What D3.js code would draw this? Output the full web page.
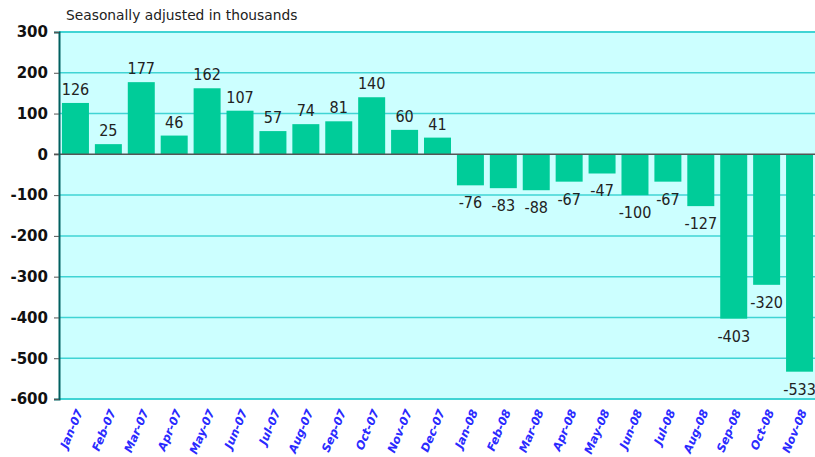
<!DOCTYPE html>
<html>
<head>
<meta charset="utf-8">
<script src="https://cdn.jsdelivr.net/npm/d3@7"></script>
<style>
  body { margin: 0; background: #fff; }
  svg { display: block; }
</style>
</head>
<body>
<div id="chart-area"></div>
<script>
// Data
var months = ['Jan-07', 'Feb-07', 'Mar-07', 'Apr-07', 'May-07', 'Jun-07', 'Jul-07', 'Aug-07', 'Sep-07', 'Oct-07', 'Nov-07', 'Dec-07',
  'Jan-08', 'Feb-08', 'Mar-08', 'Apr-08', 'May-08', 'Jun-08', 'Jul-08', 'Aug-08', 'Sep-08', 'Oct-08', 'Nov-08'];
var jobs = [126, 25, 177, 46, 162, 107, 57, 74, 81, 140, 60, 41,
  -76, -83, -88, -67, -47, -100, -67, -127, -403, -320, -533];
var yTicks = [300, 200, 100, 0, -100, -200, -300, -400, -500, -600];

var width = 815, height = 457;
// plot box (window.top is reserved, so use other names)
var plotLeft = 59, plotRight = 816, plotTop = 32, plotBottom = 399;

var svg = d3.select('#chart-area').append('svg')
  .attr('width', width)
  .attr('height', height);

// Scales
var x = d3.scaleBand()
  .domain(months)
  .range([plotLeft, plotRight])
  .paddingInner(0.18)
  .paddingOuter(0.09);

var y = d3.scaleLinear()
  .domain([-600, 300])
  .range([plotBottom, plotTop]);

// Plot background
svg.append('rect')
  .attr('x', plotLeft)
  .attr('y', plotTop)
  .attr('width', plotRight - plotLeft)
  .attr('height', plotBottom - plotTop)
  .attr('fill', '#ccffff');

// Gridlines
svg.append('g')
  .selectAll('line')
  .data(yTicks.filter(function (d) { return d !== 0; }))
  .enter()
  .append('line')
    .attr('x1', plotLeft)
    .attr('x2', plotRight)
    .attr('y1', function (d) { return y(d); })
    .attr('y2', function (d) { return y(d); })
    .attr('stroke', '#40d4d4')
    .attr('stroke-width', function (d) { return (d === 300 || d === -600) ? 2 : 1.5; });

// Bars
svg.append('g')
  .selectAll('rect')
  .data(jobs)
  .enter()
  .append('rect')
    .attr('x', function (d, i) { return x(months[i]); })
    .attr('width', x.bandwidth())
    .attr('y', function (d) { return y(Math.max(0, d)); })
    .attr('height', function (d) { return Math.abs(y(d) - y(0)); })
    .attr('fill', '#00cc99');

// Zero line
svg.append('line')
  .attr('x1', plotLeft - 5)
  .attr('x2', plotRight)
  .attr('y1', y(0))
  .attr('y2', y(0))
  .attr('stroke', '#555')
  .attr('stroke-width', 1.5);

// Value labels
svg.append('g')
  .selectAll('text')
  .data(jobs)
  .enter()
  .append('text')
    .attr('x', function (d, i) { return x(months[i]) + x.bandwidth() / 2; })
    .attr('y', function (d) { return d >= 0 ? y(d) - 8 : y(d) + 23; })
    .attr('text-anchor', 'middle')
    .style('font-family', 'DejaVu Sans Condensed, DejaVu Sans, sans-serif')
    .style('font-size', '16px')
    .style('fill', '#222')
    .text(function (d) { return String(d); });

// Y axis (plain hyphen for negatives, like the original)
var yAxis = d3.axisLeft(y).tickValues(yTicks).tickSize(5).tickPadding(6)
  .tickFormat(function (d) { return String(d); });
var yG = svg.append('g')
  .attr('transform', 'translate(' + plotLeft + ',0)')
  .call(yAxis);
yG.select('.domain').attr('stroke', '#006060').attr('stroke-width', 2);
yG.selectAll('.tick line').attr('stroke', '#555');
yG.selectAll('.tick text')
  .style('font-family', 'DejaVu Sans, sans-serif')
  .style('font-weight', 'bold')
  .style('font-size', '15px')
  .style('fill', '#111');

// X labels
svg.append('g')
  .selectAll('text')
  .data(months)
  .enter()
  .append('text')
    .attr('transform', function (d) {
      return 'translate(' + (x(d) + x.bandwidth() / 2 + 4) + ',' + (plotBottom + 11) + ') rotate(-67)';
    })
    .attr('text-anchor', 'end')
    .attr('dy', '0.35em')
    .style('font-family', 'DejaVu Sans, sans-serif')
    .style('font-weight', 'bold')
    .style('font-style', 'italic')
    .style('font-size', '11.5px')
    .style('fill', '#2a2aff')
    .text(function (d) { return d; });

// Title
svg.append('text')
  .attr('x', 66)
  .attr('y', 20)
  .style('font-family', 'DejaVu Sans, sans-serif')
  .style('font-size', '13.8px')
  .style('fill', '#222')
  .text('Seasonally adjusted in thousands');
</script>
</body>
</html>
